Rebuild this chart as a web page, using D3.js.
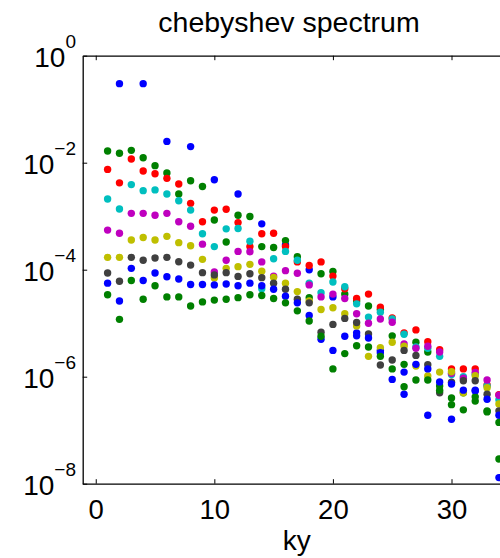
<!DOCTYPE html>
<html><head><meta charset="utf-8">
<script src="https://cdn.jsdelivr.net/npm/d3@7"></script>
<style>html,body{margin:0;padding:0;background:#fff;}svg{display:block;}</style>
</head><body>
<script>
const ky = [1,2,3,4,5,6,7,8,9,10,11,12,13,14,15,16,17,18,19,20,21,22,23,24,25,26,27,28,29,30,31,32,33,34];
const xTicks = [0,10,20,30];
const yTicks = [1e0,1e-2,1e-4,1e-6,1e-8];
const yTickExp = ["0","\u22122","\u22124","\u22126","\u22128"];
const title = "chebyshev spectrum";
const xLabel = "ky";
const colors = ["#0000ff","#008000","#ff0000","#00bfbf","#bf00bf","#bfbf00","#404040","#0000ff","#008000"];

const s1 = [null,3.0e-1,null,3.0e-1,null,2.5e-2,null,2.0e-2,null,4.8e-3,null,2.6e-3,null,7.2e-4,null,2.9e-4,null,1.0e-4,null,3.1e-5,null,6.6e-6,null,3.1e-6,null,4.7e-7,null,1.9e-7,null,1.6e-7,null,5.4e-7,null,1.3e-8];
const s2 = [1.65e-2,1.5e-2,1.7e-2,1.24e-2,8.8e-3,6.4e-3,2.6e-3,4.6e-3,3.6e-3,8.5e-4,3.3e-4,1.04e-3,9.9e-4,2.7e-4,2.6e-4,3.5e-4,1.75e-4,3.0e-5,8.4e-5,9.3e-5,3.5e-5,2.6e-5,2.1e-5,1.8e-5,5.8e-6,1.7e-6,4.4e-6,2.9e-6,6.7e-7,4.0e-7,5.0e-7,4.2e-7,2.3e-7,2.9e-8];
const s3 = [7.5e-3,4.2e-3,1.17e-2,7.0e-3,6.2e-3,5.1e-3,4.0e-3,1.74e-3,7.9e-4,1.3e-3,1.35e-3,7.6e-4,2.7e-4,4.7e-4,4.8e-4,2.7e-4,1.4e-4,1.2e-4,1.4e-4,7.6e-5,4.4e-5,2.9e-5,3.5e-5,2.0e-5,1.25e-5,6.6e-6,7.5e-6,4.5e-6,3.2e-6,1.4e-6,1.4e-6,1.4e-6,7.0e-7,4.6e-7];
const s4 = [2.1e-3,1.36e-3,3.9e-3,3.0e-3,3.1e-3,2.6e-3,1.95e-3,1.3e-3,4.7e-4,2.7e-4,5.8e-4,5.9e-4,3.4e-4,4.4e-5,1.6e-4,2.2e-4,1.5e-4,5.6e-5,3.7e-5,5.9e-5,4.8e-5,2.3e-5,1.3e-5,1.6e-5,1.2e-5,6.2e-6,3.6e-6,3.4e-6,2.4e-6,1.1e-6,1.0e-6,1.1e-6,6.7e-7,3.7e-7];
const s5 = [5.5e-4,4.8e-4,1.13e-3,1.13e-3,1.04e-3,1.13e-3,7.9e-4,6.5e-4,3.0e-4,9.1e-5,1.5e-4,2.2e-4,2.17e-4,1.4e-4,7.6e-5,9.6e-5,8.6e-5,5.2e-5,3.1e-5,3.5e-5,2.9e-5,1.5e-5,1.0e-5,1.2e-5,1.04e-5,4.1e-6,3.4e-6,3.7e-6,2.9e-6,1.16e-6,9.4e-7,1.2e-6,8.7e-7,4.5e-7];
const s6 = [1.7e-4,1.7e-4,3.6e-4,4.0e-4,3.6e-4,4.2e-4,3.2e-4,2.8e-4,1.56e-4,7.0e-5,1.06e-4,1.14e-4,1.26e-4,9.4e-5,7.2e-5,5.6e-5,3.9e-5,2.6e-5,1.8e-5,1.95e-5,1.5e-5,8.9e-6,2.4e-6,3.5e-6,4.4e-6,3.7e-6,1.58e-6,1.03e-6,1.22e-6,1.24e-6,5.0e-7,1.04e-6,6.2e-7,3.1e-7];
const s7 = [8.7e-5,6.1e-5,1.7e-4,1.5e-4,1.65e-4,1.7e-4,1.41e-4,1.22e-4,8.8e-5,8.0e-5,8.8e-5,7.5e-5,8.4e-5,7.1e-5,5.6e-5,4.3e-5,2.8e-5,2.4e-5,6.8e-6,9.5e-6,1.23e-5,1.03e-5,6.3e-6,1.65e-6,2.05e-6,3.1e-6,2.5e-6,1.68e-6,5.0e-7,7.9e-7,8.4e-7,8.4e-7,4.7e-7,2.3e-7];
const s8 = [5.6e-5,2.6e-5,1.06e-4,6.3e-5,8.7e-5,7.4e-5,6.7e-5,5.3e-5,5.3e-5,5.2e-5,5.4e-5,5.0e-5,5.6e-5,5.0e-5,4.3e-5,3.2e-5,2.4e-5,1.4e-5,5.0e-6,3.1e-6,5.7e-6,5.8e-6,5.3e-6,2.8e-6,8.9e-7,1.22e-6,1.7e-6,1.4e-6,8.0e-7,7.3e-7,5.6e-7,5.6e-7,3.8e-7,1.9e-7];
const s9 = [3.4e-5,1.18e-5,6.3e-5,2.8e-5,5.0e-5,3.1e-5,3.1e-5,2.1e-5,2.5e-5,2.7e-5,2.8e-5,3.0e-5,3.4e-5,3.3e-5,2.9e-5,2.4e-5,1.7e-5,1.1e-5,5.7e-6,1.4e-6,2.7e-6,3.8e-6,3.6e-6,2.4e-6,1.4e-6,6.5e-7,8.7e-7,8.7e-7,5.6e-7,3.0e-7,2.4e-7,3.5e-7,2.2e-7,1.4e-7];
const series = [s1,s2,s3,s4,s5,s6,s7,s8,s9];

const W = 500, H = 558;
const FONT = "'Liberation Sans', Arial, Helvetica, sans-serif";
const svg = d3.select("body").append("svg").attr("width", W).attr("height", H)
  .style("font-family", FONT);

const x = d3.scaleLinear().domain([-1.1, 35]).range([82.7, 510.8]);
const y = d3.scaleLog().domain([1e-8, 1]).range([483.7, 55.7]);

// points
series.forEach((vals, i) => {
  svg.append("g").selectAll("circle")
    .data(ky.map((k, j) => ({k, v: vals[j]})).filter(d => d.v != null))
    .join("circle")
    .attr("cx", d => x(d.k))
    .attr("cy", d => y(d.v))
    .attr("r", 3.7)
    .attr("fill", colors[i]);
});

// axes
const axStyle = g => {
  g.selectAll("path.domain").attr("stroke", "#000").attr("stroke-width", 1.3);
  g.selectAll(".tick line").attr("stroke", "#000").attr("stroke-width", 1);
};

const gBottom = svg.append("g").attr("transform", `translate(0,${y(1e-8)})`)
  .call(d3.axisBottom(x).tickValues(xTicks).tickSizeInner(-4.5).tickSizeOuter(0).tickFormat(d3.format("d")));
axStyle(gBottom);
gBottom.selectAll(".tick text").attr("y", 35.5).attr("dy", 0)
  .attr("font-size", 27.5).attr("font-family", FONT).attr("fill", "#000");

const gTop = svg.append("g").attr("transform", `translate(0,${y(1)})`)
  .call(d3.axisTop(x).tickValues(xTicks).tickSizeInner(-4.5).tickSizeOuter(0).tickFormat(""));
axStyle(gTop);

const gLeft = svg.append("g").attr("transform", `translate(${x(-1.1)},0)`)
  .call(d3.axisLeft(y).tickValues(yTicks).tickSizeInner(-4.5).tickSizeOuter(0).tickFormat(""));
axStyle(gLeft);

yTicks.forEach((t, i) => {
  const tx = svg.append("text").attr("x", 76).attr("y", y(t) + 11.5)
    .attr("text-anchor", "end").attr("fill", "#000").attr("font-size", 28);
  tx.append("tspan").text("10");
  tx.append("tspan").attr("dy", -19).attr("font-size", 19).text(yTickExp[i]);
});

svg.append("text").attr("x", 289).attr("y", 32).attr("text-anchor", "middle")
  .attr("font-size", 28.5).attr("fill", "#000").text(title);
svg.append("text").attr("x", 296.7).attr("y", 550).attr("text-anchor", "middle")
  .attr("font-size", 28).attr("fill", "#000").text(xLabel);
</script>
</body></html>
